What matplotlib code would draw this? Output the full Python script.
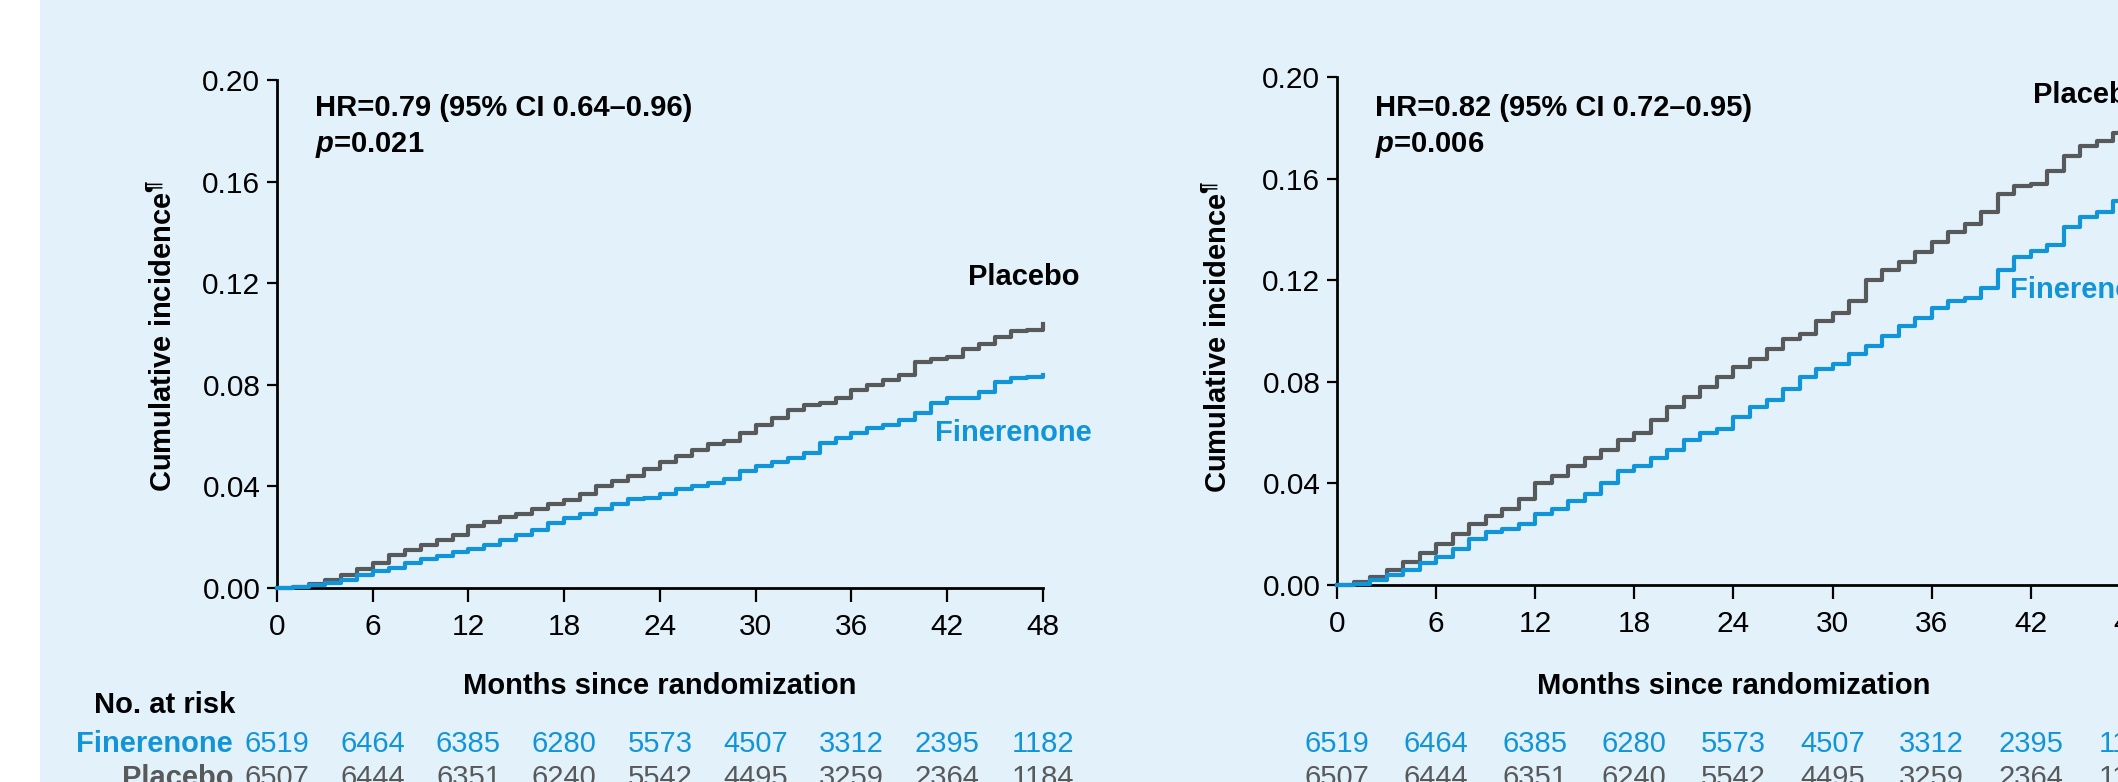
import numpy as np
import matplotlib.pyplot as plt
from matplotlib import transforms
from matplotlib.patches import Rectangle

# ---- data ----
months = np.arange(0, 49)

# left panel
left_placebo = [0, 0.0005, 0.0015, 0.003, 0.005, 0.0075, 0.0098, 0.013, 0.015, 0.017,
                0.019, 0.021, 0.0245, 0.026, 0.028, 0.029, 0.031, 0.033, 0.0345, 0.037,
                0.040, 0.042, 0.044, 0.047, 0.0495, 0.052, 0.0545, 0.0565, 0.058, 0.061,
                0.064, 0.067, 0.070, 0.072, 0.073, 0.075, 0.078, 0.080, 0.082, 0.084,
                0.089, 0.090, 0.091, 0.094, 0.096, 0.099, 0.101, 0.1015, 0.104]
left_finerenone = [0, 0.0003, 0.001, 0.002, 0.003, 0.005, 0.0065, 0.008, 0.010, 0.0115,
                   0.0125, 0.014, 0.0155, 0.017, 0.019, 0.021, 0.023, 0.0255, 0.0275, 0.029,
                   0.031, 0.033, 0.035, 0.0355, 0.037, 0.039, 0.040, 0.0415, 0.043, 0.046,
                   0.048, 0.0495, 0.051, 0.053, 0.057, 0.059, 0.061, 0.063, 0.064, 0.066,
                   0.069, 0.073, 0.075, 0.075, 0.077, 0.081, 0.0825, 0.083, 0.084]

# right panel
right_placebo = [0, 0.001, 0.003, 0.006, 0.009, 0.0125, 0.016, 0.020, 0.024, 0.027,
                 0.030, 0.034, 0.040, 0.043, 0.047, 0.050, 0.053, 0.057, 0.060, 0.065,
                 0.070, 0.074, 0.078, 0.082, 0.086, 0.089, 0.093, 0.097, 0.099, 0.104,
                 0.107, 0.112, 0.120, 0.124, 0.127, 0.131, 0.135, 0.139, 0.142, 0.147,
                 0.154, 0.157, 0.158, 0.163, 0.169, 0.173, 0.175, 0.178, 0.181]
right_finerenone = [0, 0.0005, 0.002, 0.004, 0.006, 0.0085, 0.011, 0.014, 0.018, 0.021,
                    0.022, 0.024, 0.028, 0.030, 0.033, 0.036, 0.040, 0.045, 0.047, 0.050,
                    0.053, 0.057, 0.060, 0.0615, 0.066, 0.070, 0.073, 0.077, 0.082, 0.085,
                    0.087, 0.091, 0.094, 0.098, 0.102, 0.105, 0.109, 0.112, 0.113, 0.117,
                    0.124, 0.129, 0.1315, 0.134, 0.141, 0.145, 0.147, 0.151, 0.154]

risk_months = [0, 6, 12, 18, 24, 30, 36, 42, 48]
risk_finerenone = [6519, 6464, 6385, 6280, 5573, 4507, 3312, 2395, 1182]
risk_placebo = [6507, 6444, 6351, 6240, 5542, 4495, 3259, 2364, 1184]

y_ticks = [0.00, 0.04, 0.08, 0.12, 0.16, 0.20]
hr_texts = ["HR=0.79 (95% CI 0.64–0.96)", "HR=0.82 (95% CI 0.72–0.95)"]
p_texts = ["$p$=0.021", "$p$=0.006"]

# ---- style ----
BLUE = '#1295d8'
GRAY = '#58595b'
BG = '#e3f2fa'
plt.rcParams['font.family'] = ['Liberation Sans', 'DejaVu Sans']
plt.rcParams['mathtext.fontset'] = 'custom'
plt.rcParams['mathtext.rm'] = 'Liberation Sans:bold'
plt.rcParams['mathtext.it'] = 'Liberation Sans:italic:bold'
plt.rcParams['mathtext.bf'] = 'Liberation Sans:bold'

W, H = 2118, 782
fig = plt.figure(figsize=(W / 100, H / 100), dpi=100, facecolor='white')
fx = lambda px: px / W
fy = lambda py: 1 - py / H

# light blue panel, white strip on the left
fig.patches.append(Rectangle((fx(40), 0), 1, 1, transform=fig.transFigure,
                             facecolor=BG, edgecolor='none', zorder=-10))

FS = 21
TICK_FS = 21.5


def ax_x0(ax):
    return ax.get_position().x0 * W


def draw_panel(ax, fin, pla, hr, ptxt, plac_xy, fin_xy, ylab_xy):
    ax.set_facecolor('none')
    ax.step(months, pla, where='post', color=GRAY, lw=3, clip_on=False, zorder=3)
    ax.step(months, fin, where='post', color=BLUE, lw=3, clip_on=False, zorder=4)
    ax.set_xlim(0, 48)
    ax.set_ylim(0, 0.2)
    ax.set_xticks(risk_months)
    ax.set_yticks(y_ticks)
    ax.set_yticklabels([f'{v:.2f}' for v in y_ticks])
    for s in ['top', 'right']:
        ax.spines[s].set_visible(False)
    for s in ['left', 'bottom']:
        ax.spines[s].set_linewidth(2)
    ax.tick_params(axis='x', length=10, width=1.6, pad=8, labelsize=TICK_FS)
    ax.tick_params(axis='y', length=7, width=1.6, pad=5, labelsize=TICK_FS)

    # annotations (positions in figure pixels)
    fig.text(fx(ax_x0(ax) + 38), fy(116), hr, fontsize=FS, fontweight='bold')
    fig.text(fx(ax_x0(ax) + 38), fy(152), ptxt, fontsize=FS, fontweight='bold')
    fig.text(fx(plac_xy[0]), fy(plac_xy[1]), 'Placebo', fontsize=FS,
             fontweight='bold', color='black')
    fig.text(fx(fin_xy[0]), fy(fin_xy[1]), 'Finerenone', fontsize=FS,
             fontweight='bold', color=BLUE)
    fig.text(fx(ylab_xy[0]), fy(ylab_xy[1]), 'Cumulative incidence$^{\\mathrm{¶}}$',
             rotation=90, ha='center', va='center', fontsize=FS, fontweight='bold')

    # x label and numbers at risk, x in data, y in figure coords
    trans = transforms.blended_transform_factory(ax.transData, fig.transFigure)
    ax.text(24, fy(694), 'Months since randomization', transform=trans,
            ha='center', va='baseline', fontsize=FS, fontweight='bold')
    for m, nf, npl in zip(risk_months, risk_finerenone, risk_placebo):
        ax.text(m, fy(752), str(nf), transform=trans, ha='center', va='baseline',
                fontsize=FS, color=BLUE, clip_on=False)
        ax.text(m, fy(786), str(npl), transform=trans, ha='center', va='baseline',
                fontsize=FS, color=GRAY, clip_on=False)


ax1 = fig.add_axes([fx(277), fy(588), 766 / W, 508 / H])
ax2 = fig.add_axes([fx(1337), fy(585), 793 / W, 508 / H])

draw_panel(ax1, left_finerenone, left_placebo, hr_texts[0], p_texts[0],
           (968, 285), (935, 441), (163, 336))
draw_panel(ax2, right_finerenone, right_placebo, hr_texts[1], p_texts[1],
           (2033, 103), (2010, 298), (1218, 337))

# number at risk labels
fig.text(fx(94), fy(713), 'No. at risk', fontsize=FS, fontweight='bold')
fig.text(fx(233), fy(752), 'Finerenone', ha='right', fontsize=FS,
         fontweight='bold', color=BLUE)
fig.text(fx(233), fy(786), 'Placebo', ha='right', fontsize=FS,
         fontweight='bold', color=GRAY)

fig.savefig('out.png', dpi=100, facecolor='white')
